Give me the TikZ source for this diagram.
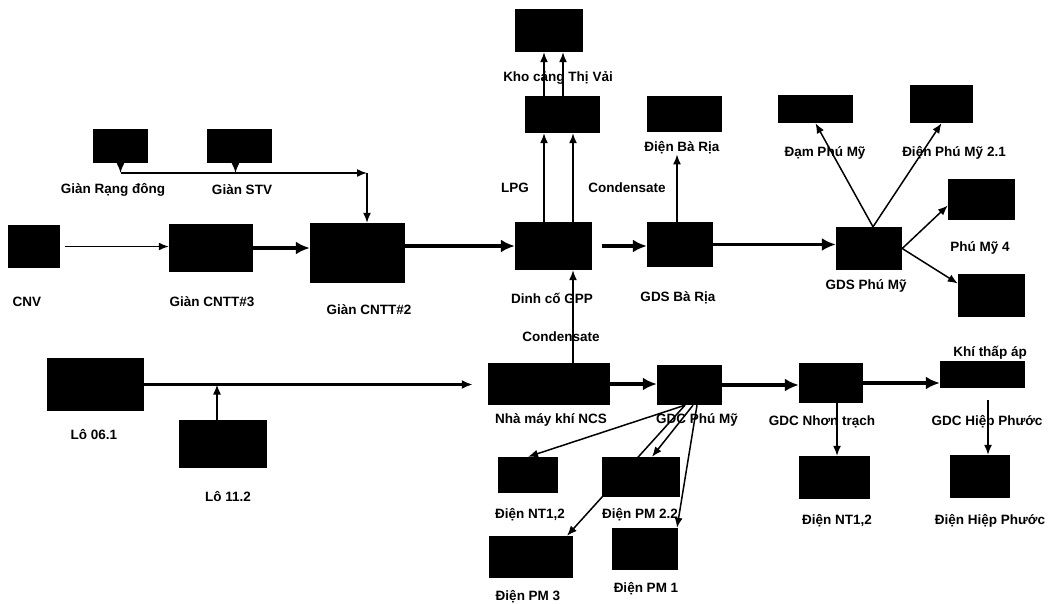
\documentclass[tikz,border=0pt]{standalone}
\usepackage{fontspec}
\setmainfont{Liberation Sans}
\usetikzlibrary{arrows.meta,backgrounds}
\tikzset{
  blk/.style={fill=black,inner sep=0pt},
  lbl/.style={inner sep=0pt,font=\fontsize{13.5}{15}\selectfont\bfseries},
  pipe/.style={line width=1.5pt,-{Latex[length=10pt,width=8pt]}},
  trunk/.style={line width=3.6pt,-{Latex[length=14pt,width=13pt]}},
  midpipe/.style={line width=2.2pt,-{Latex[length=11pt,width=9pt]}},
}
\begin{document}
\begin{tikzpicture}[x=1pt,y=-1pt]
\useasboundingbox (0,0) rectangle (1049,603);
\node[blk,minimum width=52pt,minimum height=43pt] (cnv) at (34,246.5) {};
\node[blk,minimum width=55pt,minimum height=34pt] (rang) at (120.5,146) {};
\node[blk,minimum width=65pt,minimum height=34pt] (stv) at (239.5,146) {};
\node[blk,minimum width=84pt,minimum height=48pt] (cntt3) at (211,248) {};
\node[blk,minimum width=95pt,minimum height=60pt] (cntt2) at (357.5,253) {};
\node[blk,minimum width=77pt,minimum height=48pt] (gpp) at (553.5,246) {};
\node[blk,minimum width=68pt,minimum height=43pt] (kho) at (549,30.5) {};
\node[blk,minimum width=75pt,minimum height=37pt] (bon) at (562.5,114.5) {};
\node[blk,minimum width=66pt,minimum height=45pt] (gdsbr) at (680,244.5) {};
\node[blk,minimum width=75pt,minimum height=36pt] (dienbr) at (684.5,114) {};
\node[blk,minimum width=66pt,minimum height=43pt] (gdspm) at (869,248.5) {};
\node[blk,minimum width=75pt,minimum height=28pt] (dam) at (815.5,109) {};
\node[blk,minimum width=63pt,minimum height=38pt] (pm21) at (941.5,104) {};
\node[blk,minimum width=67pt,minimum height=41pt] (pm4) at (981.5,199.5) {};
\node[blk,minimum width=67pt,minimum height=43pt] (kta) at (991.5,295.5) {};
\node[blk,minimum width=97pt,minimum height=53pt] (lo061) at (95.5,384.5) {};
\node[blk,minimum width=88pt,minimum height=48pt] (lo112) at (223,444) {};
\node[blk,minimum width=122pt,minimum height=42pt] (ncs) at (549,384) {};
\node[blk,minimum width=65pt,minimum height=40pt] (gdcpm) at (689.5,385) {};
\node[blk,minimum width=60pt,minimum height=36pt] (nt12a) at (528,475) {};
\node[blk,minimum width=78pt,minimum height=40pt] (pm22) at (641,477) {};
\node[blk,minimum width=84pt,minimum height=42pt] (pm3) at (531,557) {};
\node[blk,minimum width=66pt,minimum height=42pt] (pm1) at (645,549) {};
\node[blk,minimum width=64pt,minimum height=40pt] (gdcnt) at (831,383) {};
\node[blk,minimum width=85pt,minimum height=27pt] (gdchp) at (982.5,374.5) {};
\node[blk,minimum width=71pt,minimum height=43pt] (nt12b) at (834.5,477.5) {};
\node[blk,minimum width=60pt,minimum height=43pt] (dienhp) at (980,476.5) {};
\node[lbl] (cnvL) at (27,302) {CNV};
\node[lbl] (rangL) at (113,190) {Giàn Rạng đông};
\node[lbl] (stvL) at (242,190) {Giàn STV};
\node[lbl] (cntt3L) at (212,302) {Giàn CNTT\#3};
\node[lbl] (cntt2L) at (369,310) {Giàn CNTT\#2};
\node[lbl] (gppL) at (552,298) {Dinh cố GPP};
\node[lbl] (gdsbrL) at (678,298) {GDS Bà Rịa};
\node[lbl] (khoL) at (558,78) {Kho cảng Thị Vải};
\node[lbl] (lpgL) at (515,188) {LPG};
\node[lbl] (condL) at (627,188) {Condensate};
\node[lbl] (dienbrL) at (682,148) {Điện Bà Rịa};
\node[lbl] (cond2L) at (561,337) {Condensate};
\node[lbl] (damL) at (825,153) {Đạm Phú Mỹ};
\node[lbl] (pm21L) at (954,153) {Điện Phú Mỹ 2.1};
\node[lbl] (pm4L) at (980,248) {Phú Mỹ 4};
\node[lbl] (ktaL) at (990,353) {Khí thấp áp};
\node[lbl] (gdspmL) at (866,286) {GDS Phú Mỹ};
\node[lbl] (lo061L) at (94,435) {Lô 06.1};
\node[lbl] (lo112L) at (228,497) {Lô 11.2};
\node[lbl] (ncsL) at (551,420) {Nhà máy khí NCS};
\node[lbl] (gdcpmL) at (697,420) {GDC Phú Mỹ};
\node[lbl] (nt12aL) at (530,515) {Điện NT1,2};
\node[lbl] (pm22L) at (640,515) {Điện PM 2.2};
\node[lbl] (pm3L) at (528,597) {Điện PM 3};
\node[lbl] (pm1L) at (646,589) {Điện PM 1};
\node[lbl] (gdcntL) at (822,422) {GDC Nhơn trạch};
\node[lbl] (gdchpL) at (987,422) {GDC Hiệp Phước};
\node[lbl] (nt12bL) at (837,521) {Điện NT1,2};
\node[lbl] (dienhpL) at (990,521) {Điện Hiệp Phước};
\coordinate (jn) at (367,173);
\draw[pipe,shorten <=5pt] (cnv.east) -- (cnv.east -| cntt3.west);
\draw[trunk] (cntt3.east) -- (cntt3.east -| cntt2.west);
\draw[trunk] (gpp.west -| cntt2.east) -- (gpp.west);
\draw[trunk,shorten <=10pt] (gpp.east) -- (gpp.east -| gdsbr.west);
\draw[trunk] (gdsbr.east) -- (gdsbr.east -| gdspm.west);
\draw[pipe] (rang.south) -- (rang.south |- jn);
\draw[pipe] ([xshift=-4pt]stv.south) -- ([xshift=-4pt]stv.south |- jn);
\draw[pipe] (rang.south |- jn) -- (jn);
\draw[pipe] (jn) -- (jn |- cntt2.north);
\draw[pipe] ([xshift=-9.5pt]gpp.north) -- ([xshift=-9.5pt]gpp.north |- bon.south);
\draw[pipe] ([xshift=19.5pt]gpp.north) -- ([xshift=19.5pt]gpp.north |- bon.south);
\draw[pipe] ([xshift=-18.5pt]bon.north) -- ([xshift=-18.5pt]bon.north |- kho.south);
\draw[pipe] ([xshift=0.5pt]bon.north) -- ([xshift=0.5pt]bon.north |- kho.south);
\draw[pipe] ([xshift=-3pt]gdsbr.north) -- ([xshift=-3pt]gdsbr.north |- dienbrL.south);
\draw[pipe] ([xshift=24pt]ncs.north) -- ([xshift=24pt]ncs.north |- gpp.south);
\draw[pipe] ([xshift=4pt]gdspm.north) -- (dam.south);
\draw[pipe] ([xshift=4pt]gdspm.north) -- (pm21.south);
\draw[pipe] (gdspm.east) -- ([yshift=-6pt]pm4.west);
\draw[pipe] (gdspm.east) -- ([yshift=12pt]kta.west);
\draw[midpipe,shorten >=15pt] (lo061.east) -- (lo061.east -| ncs.west);
\draw[pipe] ([xshift=-6pt]lo112.north) -- ([xshift=-6pt]lo112.north |- lo061.east);
\draw[trunk] (ncs.east) -- (ncs.east -| gdcpm.west);
\draw[trunk] (gdcpm.east) -- (gdcpm.east -| gdcnt.west);
\draw[trunk] (gdcnt.east) -- (gdcnt.east -| gdchp.west);
\draw[pipe] ([xshift=6pt]gdcnt.south) -- ([xshift=6pt]gdcnt.south |- nt12b.north);
\draw[pipe,shorten <=12pt] ([xshift=5.5pt]gdchp.south) -- ([xshift=5.5pt]gdchp.south |- dienhp.north);
\draw[pipe] ([xshift=-4.5pt]gdcpm.south) -- (nt12a.north);
\draw[pipe] ([xshift=3.5pt]gdcpm.south) -- ([xshift=11pt]pm22.north);
\begin{pgfonlayer}{background}
\draw[pipe] ([xshift=-4.5pt]gdcpm.south) -- ([xshift=36pt]pm3.north);
\end{pgfonlayer}
\draw[pipe] ([xshift=7.5pt]gdcpm.south) -- ([xshift=32pt]pm1.north);
\end{tikzpicture}
\end{document}
